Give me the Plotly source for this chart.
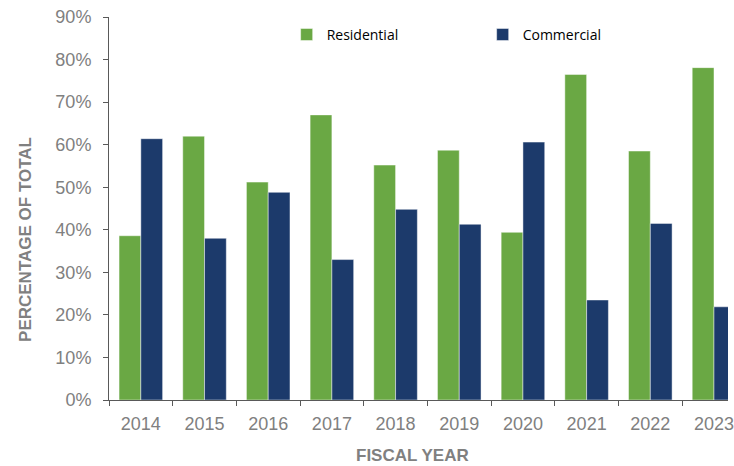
import plotly.graph_objects as go

# Share of total by fiscal year
years = ["2014", "2015", "2016", "2017", "2018", "2019", "2020", "2021", "2022", "2023"]
residential = [38.6, 62.0, 51.2, 67.0, 55.2, 58.7, 39.4, 76.5, 58.5, 78.1]
commercial = [61.4, 38.0, 48.8, 33.0, 44.8, 41.3, 60.6, 23.5, 41.5, 21.9]
y_ticks = [0, 10, 20, 30, 40, 50, 60, 70, 80, 90]
y_tick_text = [f"{v}%" for v in y_ticks]

GREEN = "#6aa844"
NAVY = "#1c3a6b"
TICK_GRAY = "#808080"
AXIS_GRAY = "#595959"

fig = go.Figure()
fig.add_trace(go.Bar(
    name="Residential", x=years, y=residential,
    marker=dict(color=GREEN, line=dict(color="rgba(255,255,255,0.45)", width=1)),
))
fig.add_trace(go.Bar(
    name="Commercial", x=years, y=commercial,
    marker=dict(color=NAVY, line=dict(color="rgba(255,255,255,0.45)", width=1)),
))

fig.update_layout(
    width=734, height=466,
    margin=dict(l=109, r=0, t=17, b=66),
    paper_bgcolor="white", plot_bgcolor="white",
    barmode="group", bargap=0.316, bargroupgap=0,
    font=dict(family="Liberation Sans, Arial, sans-serif", color=TICK_GRAY),
    showlegend=True,
    legend=dict(
        orientation="h", x=0.287, xanchor="left", y=0.995, yanchor="top",
        font=dict(family="Open Sans, sans-serif", size=14, color="#000000"),
        entrywidth=151, entrywidthmode="pixels",
        bgcolor="rgba(0,0,0,0)", traceorder="normal",
    ),
    xaxis=dict(
        type="category", range=[-0.5, 9.22],
        showline=True, linecolor=AXIS_GRAY, linewidth=1,
        ticks="outside", tickson="boundaries", ticklen=5, tickcolor=AXIS_GRAY,
        tickfont=dict(size=18, color=TICK_GRAY),
        ticklabelstandoff=7,
        showgrid=False, zeroline=False, fixedrange=True,
    ),
    yaxis=dict(
        range=[0, 90], tickmode="array", tickvals=y_ticks, ticktext=y_tick_text,
        showline=True, linecolor=AXIS_GRAY, linewidth=1,
        ticks="outside", ticklen=5, tickcolor=AXIS_GRAY,
        tickfont=dict(size=18, color=TICK_GRAY),
        ticklabelstandoff=8,
        showgrid=False, zeroline=False, fixedrange=True,
    ),
    annotations=[
        dict(text="<b>PERCENTAGE OF TOTAL</b>", textangle=-90,
             xref="paper", yref="paper", x=-0.136, y=0.42,
             xanchor="center", yanchor="middle", showarrow=False,
             font=dict(size=17, color=TICK_GRAY)),
        dict(text="<b>FISCAL YEAR</b>",
             xref="paper", yref="paper", x=0.49, y=-0.145,
             xanchor="center", yanchor="middle", showarrow=False,
             font=dict(size=17, color=TICK_GRAY)),
    ],
)

fig.write_html("out.html")
